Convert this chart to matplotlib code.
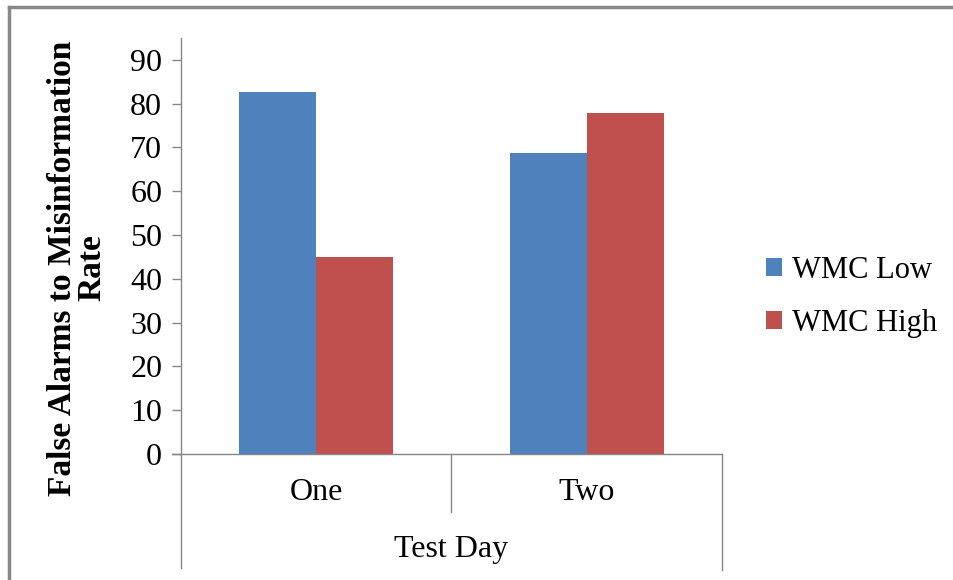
import matplotlib
matplotlib.use('Agg')
import matplotlib.pyplot as plt
from matplotlib.lines import Line2D
import numpy as np

plt.rcParams['font.family'] = ['Liberation Serif', 'DejaVu Serif']

days = ['One', 'Two']
wmc_low = [82.7, 68.8]
wmc_high = [45.0, 77.9]
y_ticks = list(range(0, 100, 10))

blue = '#4F81BD'
red = '#C0504D'
grey = '#868686'

W, H = 954, 580
fig = plt.figure(figsize=(W / 100, H / 100), dpi=100)

# plot area in pixels: x 181..722, baseline at 454, top at 38
x0, x1, yb, yt = 181, 722, 454, 38
ax = fig.add_axes([x0 / W, 1 - yb / H, (x1 - x0) / W, (yb - yt) / H])

centers = np.arange(len(days)) + 0.5
bw = 0.284
ax.bar(centers - bw / 2, wmc_low, bw, color=blue, label='WMC Low')
ax.bar(centers + bw / 2, wmc_high, bw, color=red, label='WMC High')

ax.set_xlim(0, len(days))
ax.set_ylim(0, 95)
ax.set_yticks(y_ticks)
ax.tick_params(axis='y', direction='out', length=6.5, width=1, color=grey,
               labelsize=23, pad=7)
ax.set_xticks([])
for s in ['top', 'right']:
    ax.spines[s].set_visible(False)
for s in ['left', 'bottom']:
    ax.spines[s].set_color(grey)
    ax.spines[s].set_linewidth(1)
ax.spines['bottom'].set_bounds(-9 / (x1 - x0) * len(days), len(days))

# category boxes under the axis
ph = yb - yt
trans = ax.get_xaxis_transform()
ax.plot([0, 0], [0, -(568 - yb) / ph], color=grey, lw=1, transform=trans, clip_on=False)
ax.plot([1, 1], [0, -(512 - yb) / ph], color=grey, lw=1, transform=trans, clip_on=False)
ax.plot([2, 2], [0, -(570 - yb) / ph], color=grey, lw=1, transform=trans, clip_on=False)
for c, d in zip(centers, days):
    ax.text(c, -(493 - yb) / ph, d, transform=trans, ha='center', va='center', fontsize=23)
ax.text(1, -(550 - yb) / ph, 'Test Day', transform=trans, ha='center', va='center', fontsize=23)

fig.text(77 / W, 1 - 268 / H, 'False Alarms to Misinformation\nRate', rotation=90,
         ha='center', va='center', fontsize=24, fontweight='bold', linespacing=0.95)

fig.legend(loc='center left', bbox_to_anchor=(766 / W, 1 - 297 / H), frameon=False,
           fontsize=22, borderpad=0, borderaxespad=0, handlelength=0.52,
           handleheight=0.52, handletextpad=0.33, labelspacing=0.78)

# outer chart border (left and top edges)
fig.add_artist(Line2D([9 / W, 9 / W], [0, 1 - 7 / H], color='#888888', lw=2.5,
                      transform=fig.transFigure))
fig.add_artist(Line2D([9 / W, 1], [1 - 7 / H, 1 - 7 / H], color='#888888', lw=2.5,
                      transform=fig.transFigure))

fig.savefig('out.png', dpi=100)
